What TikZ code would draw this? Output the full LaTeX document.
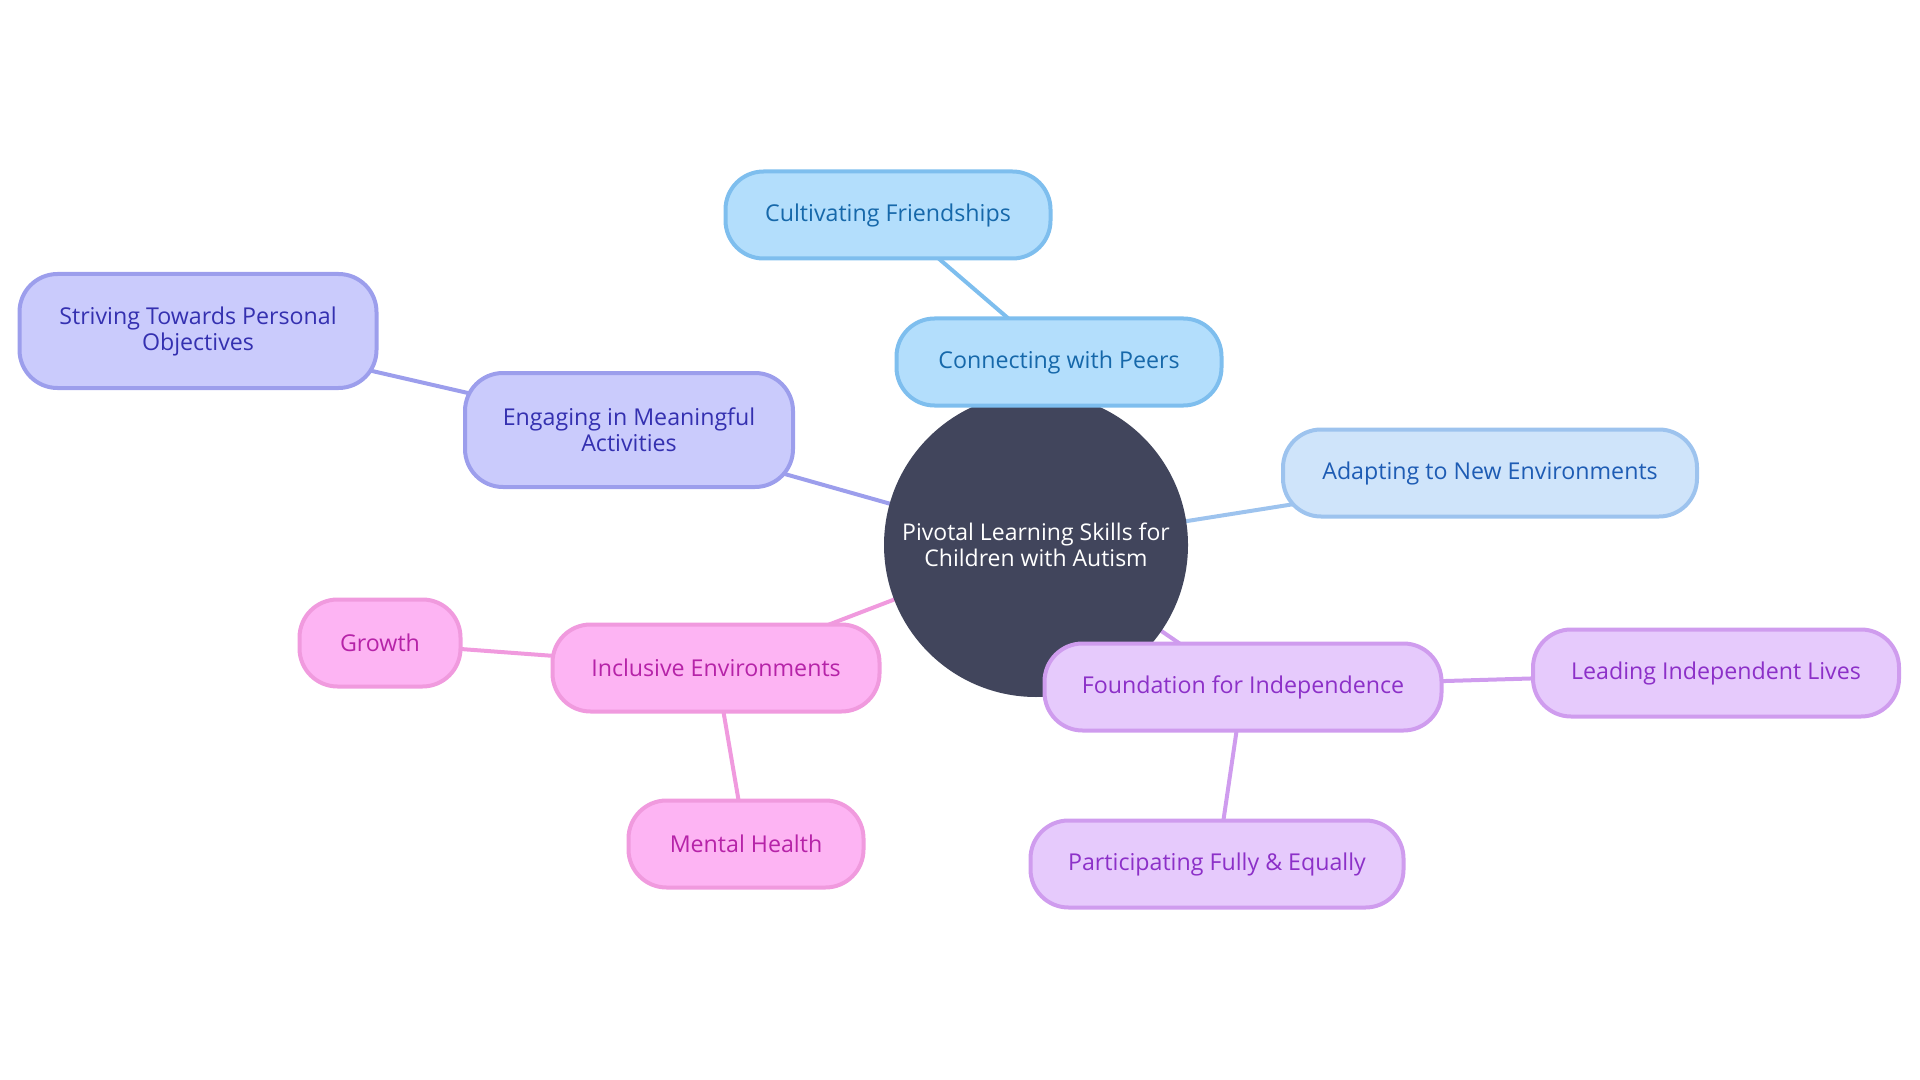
\documentclass[tikz,border=0pt]{standalone}
\usepackage{fontspec}
\setmainfont{Open Sans}
\usetikzlibrary{backgrounds}
\definecolor{hubfill}{RGB}{65,69,92}
\definecolor{peerfill}{RGB}{179,222,252}
\definecolor{peerline}{RGB}{126,190,238}
\definecolor{peertext}{RGB}{22,104,170}
\definecolor{adaptfill}{RGB}{207,228,250}
\definecolor{adaptline}{RGB}{157,195,238}
\definecolor{adapttext}{RGB}{30,92,180}
\definecolor{goalfill}{RGB}{202,203,252}
\definecolor{goalline}{RGB}{156,158,236}
\definecolor{goaltext}{RGB}{52,48,176}
\definecolor{inclfill}{RGB}{253,180,243}
\definecolor{inclline}{RGB}{240,154,222}
\definecolor{incltext}{RGB}{182,35,168}
\definecolor{indepfill}{RGB}{230,202,252}
\definecolor{indepline}{RGB}{207,156,238}
\definecolor{indeptext}{RGB}{140,48,200}

\begin{document}
\begin{tikzpicture}[x=0.5pt, y=-0.5pt,
  hub/.style={circle, fill=hubfill, minimum size=152pt, inner sep=0pt, align=center, text=white, font=\fontsize{11.5}{13}\selectfont},
  topic/.style={rectangle, rounded corners=19pt, line width=2pt, minimum height=43.5pt, inner sep=0pt, align=center, font=\fontsize{11.6}{13}\selectfont},
  peer/.style={topic, draw=peerline, fill=peerfill, text=peertext},
  adapt/.style={topic, draw=adaptline, fill=adaptfill, text=adapttext},
  goal/.style={topic, draw=goalline, fill=goalfill, text=goaltext, minimum height=57pt},
  incl/.style={topic, draw=inclline, fill=inclfill, text=incltext},
  indep/.style={topic, draw=indepline, fill=indepfill, text=indeptext},
  link/.style={line width=2pt}
]
\useasboundingbox (0,0) rectangle (1920,1080);
\node[hub] (hub) at (1036,545) {Pivotal Learning Skills for\\Children with Autism};
\node[peer, minimum width=162.5pt] (peers) at (1059,362) {Connecting with Peers};
\node[peer, minimum width=162.5pt] (friends) at (888,215) {Cultivating Friendships};
\node[adapt, minimum width=207pt] (adapt) at (1490,473) {Adapting to New Environments};
\node[goal, minimum width=164pt] (engage) at (629,430) {Engaging in Meaningful\\Activities};
\node[goal, minimum width=178.5pt] (strive) at (198,331) {Striving Towards Personal\\Objectives};
\node[incl, minimum width=163.5pt] (incl) at (716,668) {Inclusive Environments};
\node[incl, minimum width=80.5pt] (growth) at (380,643) {Growth};
\node[incl, minimum width=117.5pt] (mental) at (746,844) {Mental Health};
\node[indep, minimum width=198.5pt] (found) at (1243,687) {Foundation for Independence};
\node[indep, minimum width=183pt] (lead) at (1716,673) {Leading Independent Lives};
\node[indep, minimum width=186.5pt] (partic) at (1217,864) {Participating Fully \& Equally};
\begin{scope}[on background layer]
\draw[link, peerline] (hub.center) -- (peers.center);
\draw[link, peerline] (peers.center) -- (friends.center);
\draw[link, adaptline] (hub.center) -- (adapt.center);
\draw[link, goalline] (hub.center) -- (engage.center);
\draw[link, goalline] (engage.center) -- (strive.center);
\draw[link, inclline] (hub.center) -- (incl.center);
\draw[link, inclline] (incl.center) -- (growth.center);
\draw[link, inclline] (incl.center) -- (mental.center);
\draw[link, indepline] (hub.center) -- (found.center);
\draw[link, indepline] (found.center) -- (lead.center);
\draw[link, indepline] (found.center) -- (partic.center);
\end{scope}
\end{tikzpicture}
\end{document}
